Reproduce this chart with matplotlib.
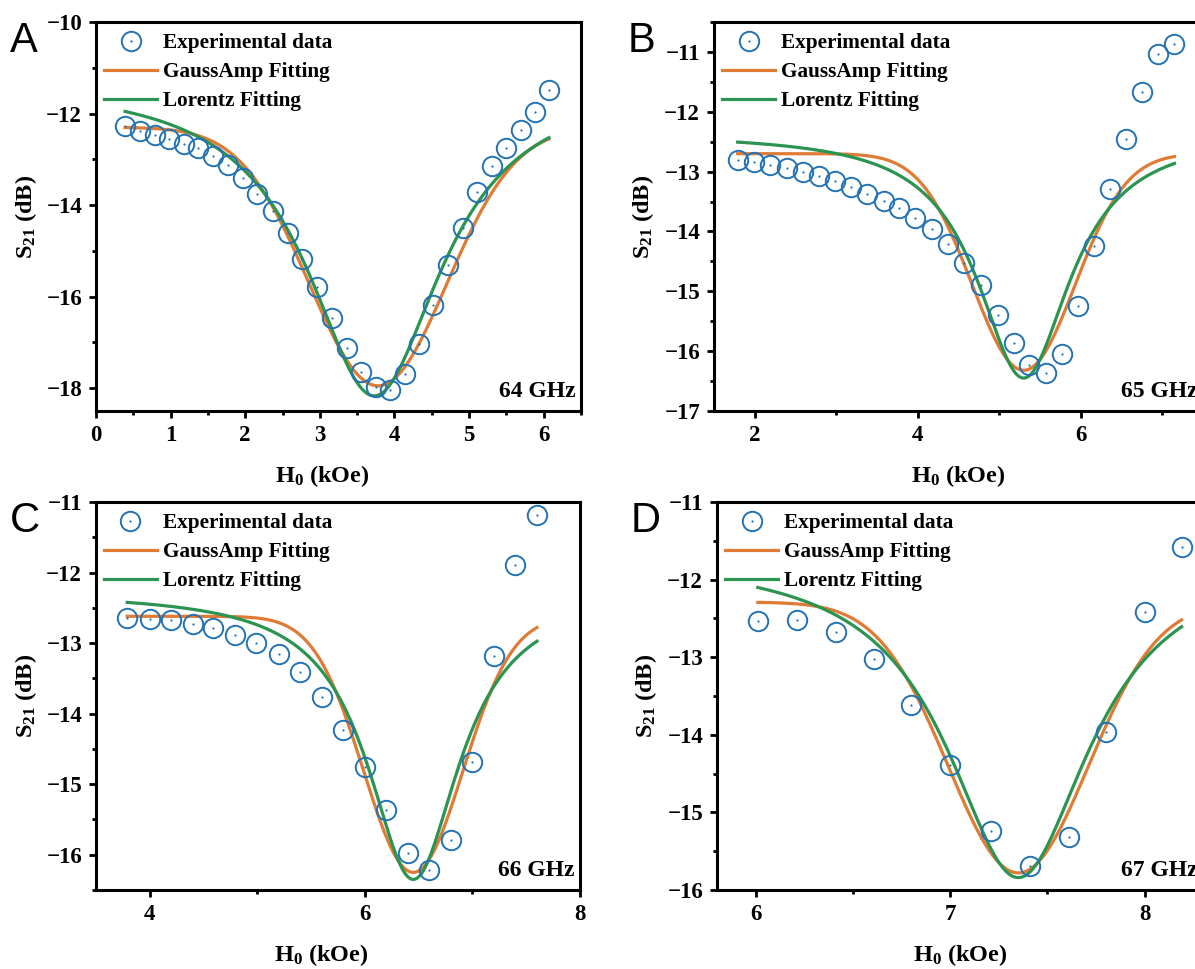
import numpy as np
import matplotlib
matplotlib.use('Agg')
import matplotlib.pyplot as plt
from matplotlib.ticker import MultipleLocator

plt.rcParams['font.family'] = ['Liberation Serif', 'DejaVu Serif']
plt.rcParams['font.weight'] = 'bold'
plt.rcParams['mathtext.fontset'] = 'custom'
plt.rcParams['mathtext.rm'] = 'Liberation Serif:bold'
plt.rcParams['mathtext.bf'] = 'Liberation Serif:bold'
plt.rcParams['mathtext.it'] = 'Liberation Serif:bold'
plt.rcParams['mathtext.default'] = 'rm'

# ---------------- data ----------------
# Panel A (64 GHz)
hA = [0.39, 0.59, 0.79, 0.98, 1.18, 1.37, 1.57, 1.77, 1.97, 2.16, 2.37, 2.57, 2.76, 2.96, 3.16,
      3.36, 3.55, 3.75, 3.94, 4.14, 4.33, 4.52, 4.72, 4.92, 5.11, 5.31, 5.50, 5.69, 5.88, 6.07]
sA = [-12.28, -12.39, -12.46, -12.55, -12.66, -12.76, -12.92, -13.13, -13.41, -13.76, -14.14, -14.62,
      -15.17, -15.79, -16.46, -17.12, -17.65, -17.97, -18.04, -17.69, -17.04, -16.19, -15.32, -14.50,
      -13.72, -13.15, -12.75, -12.36, -11.96, -11.49]
# Panel B (65 GHz)
hB = [1.79, 1.99, 2.19, 2.39, 2.59, 2.79, 2.98, 3.18, 3.38, 3.58, 3.77, 3.97, 4.17, 4.37, 4.57,
      4.77, 4.98, 5.18, 5.37, 5.57, 5.77, 5.97, 6.16, 6.36, 6.56, 6.75, 6.95, 7.15]
sB = [-12.81, -12.84, -12.89, -12.94, -13.00, -13.07, -13.16, -13.26, -13.37, -13.49, -13.61, -13.77,
      -13.96, -14.21, -14.52, -14.90, -15.39, -15.87, -16.23, -16.37, -16.04, -15.25, -14.24, -13.29,
      -12.46, -11.67, -11.03, -10.87]
# Panel C (66 GHz)
hC = [3.79, 4.00, 4.20, 4.40, 4.59, 4.79, 4.99, 5.20, 5.40, 5.60, 5.80, 6.00, 6.20, 6.40, 6.60,
      6.80, 7.00, 7.20, 7.40, 7.60]
sC = [-12.64, -12.66, -12.67, -12.73, -12.79, -12.88, -13.00, -13.16, -13.41, -13.76, -14.23, -14.75,
      -15.37, -15.98, -16.22, -15.79, -14.69, -13.19, -11.89, -11.19]
# Panel D (67 GHz)
hD = [6.01, 6.21, 6.41, 6.61, 6.80, 7.00, 7.21, 7.41, 7.61, 7.80, 8.00, 8.19]
sD = [-12.53, -12.52, -12.67, -13.02, -13.62, -14.39, -15.24, -15.69, -15.32, -13.97, -12.42, -11.58]

# Fit parameters: (y0, amplitude, centre, width)
gaussA, lorA = (-12.30, -5.65, 3.78, 0.92), (-11.28, -6.89, 3.73, 2.20)
gaussB, lorB = (-12.70, -3.62, 5.30, 0.63), (-12.35, -4.10, 5.30, 1.40)
gaussC, lorC = (-12.62, -3.63, 6.45, 0.46), (-12.27, -4.08, 6.45, 1.05)
gaussD, lorD = (-12.29, -3.49, 7.35, 0.36), (-11.68, -4.16, 7.35, 0.90)

freqs = ['64 GHz', '65 GHz', '66 GHz', '67 GHz']
letters = ['A', 'B', 'C', 'D']

BLUE = '#2272b4'
ORANGE = '#e07b36'
GREEN = '#2a9450'

W, H = 1195, 969
fig = plt.figure(figsize=(W / 100, H / 100), dpi=100)

def pos(l, t, r, b):
    return [l / W, 1 - b / H, (r - l) / W, (b - t) / H]

panels = [
    dict(rect=pos(96, 22, 581, 411), h=hA, s=sA, g=gaussA, lz=lorA, xlim=(0, 6.5), ylim=(-18.5, -10),
         xmaj=1, xmin=0.5, ymaj=2, ymin=1),
    dict(rect=pos(714, 22, 1203, 411), h=hB, s=sB, g=gaussB, lz=lorB, xlim=(1.5, 7.5), ylim=(-17, -10.5),
         xmaj=2, xmin=1, ymaj=1, ymin=0.5),
    dict(rect=pos(96, 502, 580, 890), h=hC, s=sC, g=gaussC, lz=lorC, xlim=(3.5, 8), ylim=(-16.5, -11),
         xmaj=2, xmin=1, ymaj=1, ymin=0.5),
    dict(rect=pos(717, 502, 1203, 890), h=hD, s=sD, g=gaussD, lz=lorD, xlim=(5.8, 8.3), ylim=(-16, -11),
         xmaj=1, xmin=0.5, ymaj=1, ymin=0.5),
]

def gauss_amp(x, p):
    y0, a, xc, w = p
    return y0 + a * np.exp(-(x - xc) ** 2 / (2 * w ** 2))

def lorentz(x, p):
    y0, a, xc, w = p
    return y0 + a / (1 + 4 * ((x - xc) / w) ** 2)

for i, p in enumerate(panels):
    ax = fig.add_axes(p['rect'])
    h = np.array(p['h'])
    s = np.array(p['s'])
    xf = np.linspace(h.min(), h.max(), 300)
    lg, = ax.plot(xf, gauss_amp(xf, p['g']), color=ORANGE, lw=2.3, zorder=2)
    ll, = ax.plot(xf, lorentz(xf, p['lz']), color=GREEN, lw=2.3, zorder=3)
    lc, = ax.plot(h, s, ls='none', marker='o', ms=14, mfc='none', mec=BLUE, mew=1.4, zorder=4)
    ld, = ax.plot(h, s, ls='none', marker='o', ms=1.6, mfc=BLUE, mec=BLUE, mew=0, zorder=5)
    ax.set_xlim(*p['xlim'])
    ax.set_ylim(*p['ylim'])
    ax.xaxis.set_major_locator(MultipleLocator(p['xmaj']))
    ax.xaxis.set_minor_locator(MultipleLocator(p['xmin']))
    ax.yaxis.set_major_locator(MultipleLocator(p['ymaj']))
    ax.yaxis.set_minor_locator(MultipleLocator(p['ymin']))
    ax.tick_params(which='major', direction='out', length=5, width=2, labelsize=16.5, pad=5)
    ax.tick_params(which='minor', direction='out', length=3, width=2)
    for sp in ax.spines.values():
        sp.set_linewidth(2.2)
    for lab in ax.get_xticklabels() + ax.get_yticklabels():
        lab.set_fontweight('bold')
    ax.set_xlabel(r'H$_0$ (kOe)', fontsize=17.5, fontweight='bold')
    ax.set_ylabel(r'S$_{21}$ (dB)', fontsize=17.5, fontweight='bold')
    if i in (0, 2):
        ax.xaxis.set_label_coords(0.466, -0.168)
    else:
        ax.xaxis.set_label_coords(0.5, -0.168)
    ax.xaxis.label.set_va('center')
    ax.yaxis.set_label_coords(-0.145, 0.5)
    ax.yaxis.label.set_va('center')
    ax.text(0.988, 0.022, freqs[i], transform=ax.transAxes, ha='right', va='bottom',
            fontsize=17, fontweight='bold')
    ax.legend([(lc, ld), lg, ll], ['Experimental data', 'GaussAmp Fitting', 'Lorentz Fitting'],
              loc='upper left', bbox_to_anchor=(0.012, 0.976), frameon=False,
              handlelength=2.5, handletextpad=0.3, labelspacing=0.42, borderaxespad=0, borderpad=0.1,
              prop={'weight': 'bold', 'size': 15.3})
    l, b, w_, h_ = p['rect']
    fig.text(l - 86 / W, b + h_ + 1 / H, letters[i], fontsize=30, family='Liberation Sans',
             fontweight='normal', ha='left', va='top')

fig.savefig('out.png', dpi=100)
